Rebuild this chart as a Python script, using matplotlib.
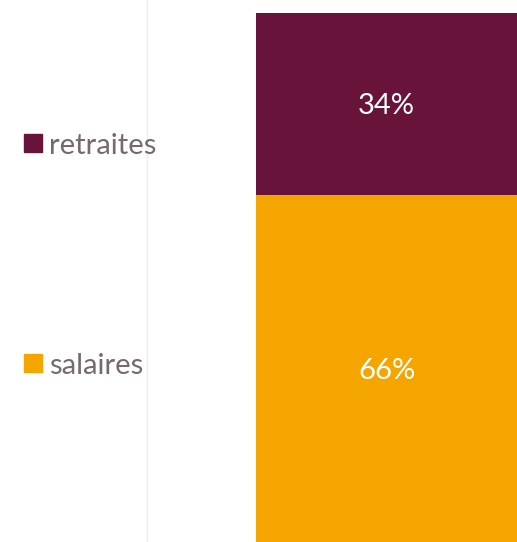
import matplotlib.pyplot as plt
from matplotlib.patches import Rectangle

categories = ['salaires', 'retraites']
shares = [65.6, 34.4]
colors = ['#f5a500', '#68143a']
text_color = '#766a6f'

plt.rcParams['font.family'] = ['Lato', 'DejaVu Sans']

W, H = 517, 542
fig = plt.figure(figsize=(W / 100, H / 100), dpi=100)

# axes from the faint vertical line to the right edge, full height
ax = fig.add_axes([147 / W, 0, (W - 147) / W, 1])
total = sum(shares)
ax.set_xlim(0, 1)
ax.set_ylim(0, total * H / (H - 13))

bar_left = (256 - 147) / (W - 147)
bottom = 0
for cat, val, col in zip(categories, shares, colors):
    ax.bar(bar_left, val, width=1.2, bottom=bottom, align='edge', color=col)
    ax.text(bar_left + (1 - bar_left) / 2, bottom + val / 2, f'{val:.0f}%',
            ha='center', va='center_baseline', color='white', fontsize=21)
    bottom += val

for s in ['top', 'right', 'bottom']:
    ax.spines[s].set_visible(False)
ax.spines['left'].set_color('#ececec')
ax.spines['left'].set_linewidth(1)
ax.set_xticks([])
ax.set_yticks([])

# legend on the left
legend_y = {'retraites': 143, 'salaires': 363}
for cat, col in zip(categories, colors):
    yc = legend_y[cat]
    fig.patches.append(Rectangle((24 / W, 1 - (yc + 9) / H), 18 / W, 18 / H,
                                 transform=fig.transFigure, color=col))
    fig.text(49 / W, 1 - yc / H, cat, ha='left', va='center_baseline',
             color=text_color, fontsize=21)

fig.savefig('out.png', dpi=100)
